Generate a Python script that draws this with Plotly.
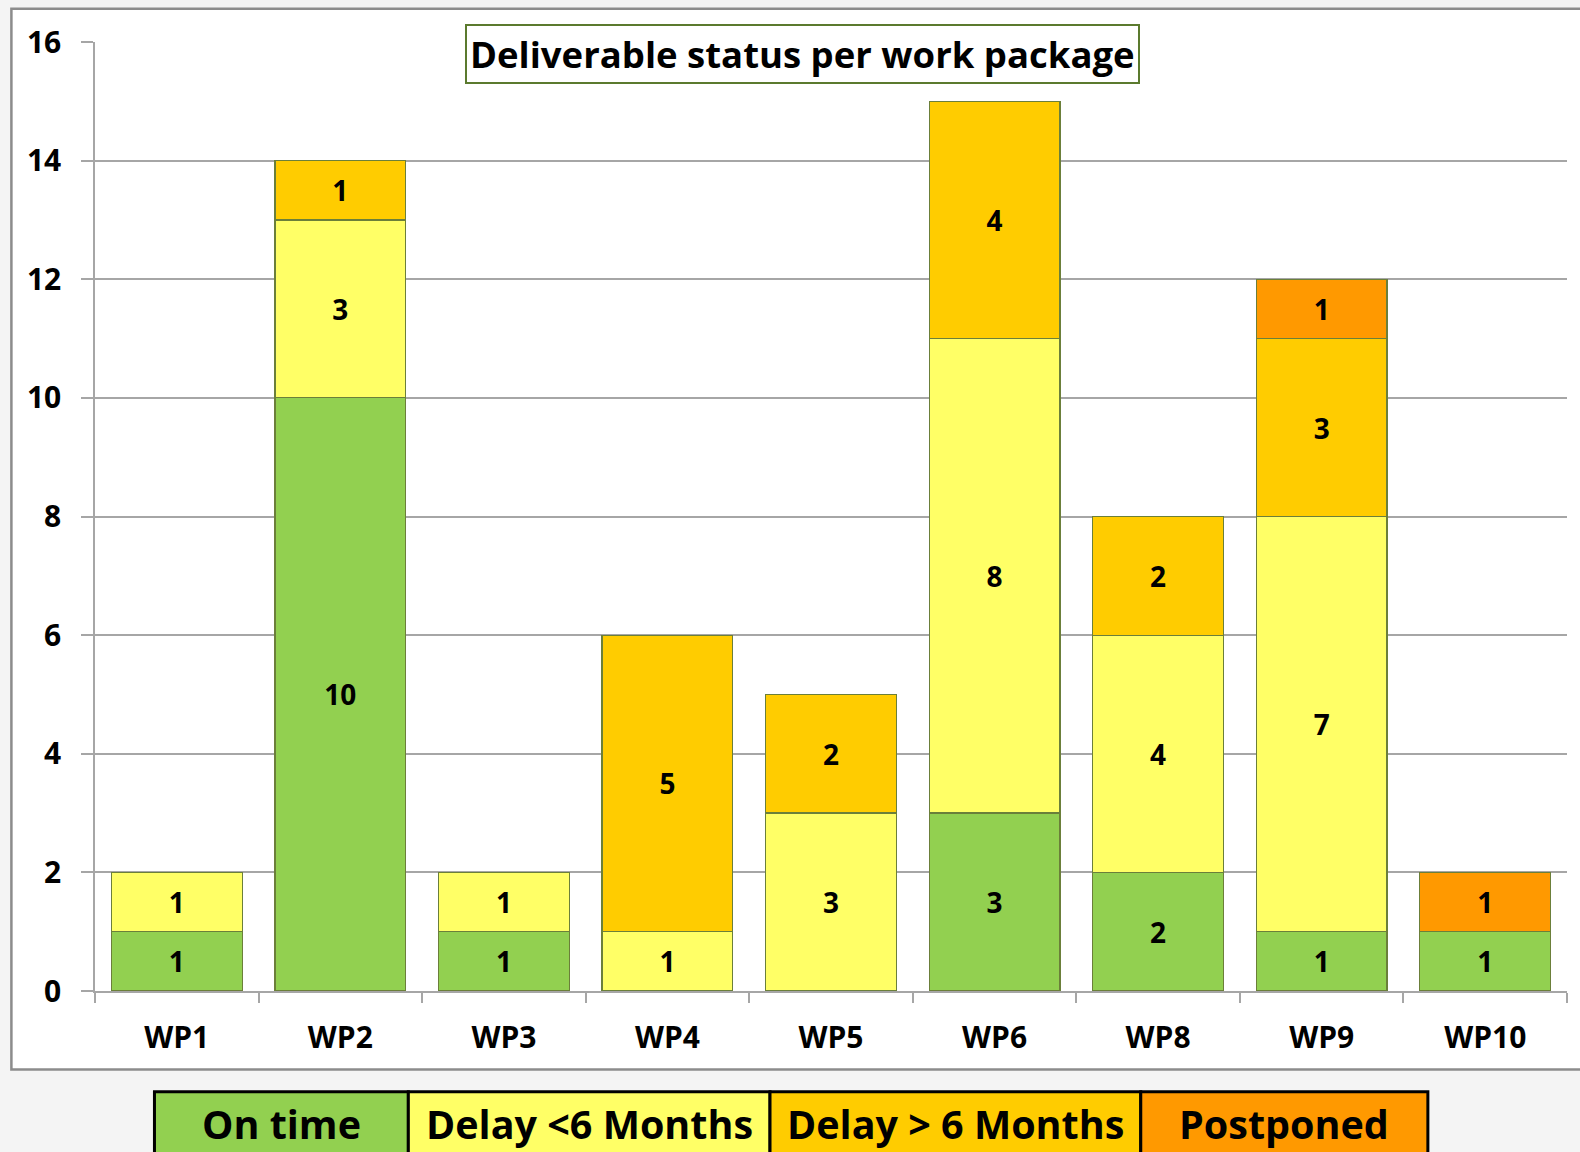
import plotly.graph_objects as go

categories = ["WP1", "WP2", "WP3", "WP4", "WP5", "WP6", "WP8", "WP9", "WP10"]
series_names = ["On time", "Delay <6 Months", "Delay > 6 Months", "Postponed"]
on_time = [1, 10, 1, 0, 0, 3, 2, 1, 1]
delay_lt6 = [1, 3, 1, 1, 3, 8, 4, 7, 0]
delay_gt6 = [0, 1, 0, 5, 2, 4, 2, 3, 0]
postponed = [0, 0, 0, 0, 0, 0, 0, 1, 1]
colors = ["#92D050", "#FFFF66", "#FFCC00", "#FF9900"]
y_ticks = [0, 2, 4, 6, 8, 10, 12, 14, 16]
title_text = "Deliverable status per work package"

W, H = 1580, 1152
S = 1580 / 1568  # measured coordinates were taken on a 1568-wide view
L, R, T, B = 94.7, 13, 42.3, 160.5
PW, PH = W - L - R, H - T - B


def px(x):
    return (x * S - L) / PW


def py(y):
    return (H - B - y * S) / PH


FONT = "Open Sans"
fig = go.Figure()
for name, vals, col in zip(series_names, [on_time, delay_lt6, delay_gt6, postponed], colors):
    fig.add_trace(go.Bar(
        x=categories,
        y=[v if v else None for v in vals],
        name=name,
        marker=dict(color=col, line=dict(color="#6B7F3A", width=1.2)),
        text=[str(v) if v else "" for v in vals],
        textposition="inside",
        insidetextanchor="middle",
        textangle=0,
        textfont=dict(family=FONT, size=28, color="black", weight="bold"),
        constraintext="none",
        showlegend=False,
    ))

shapes = []
# chart outer box
shapes.append(dict(type="rect", xref="paper", yref="paper",
                   x0=px(11), x1=px(1600), y0=py(1062), y1=py(9),
                   fillcolor="white", line=dict(color="#8C8C8C", width=2.5), layer="below"))

annotations = []
annotations.append(dict(
    text="<b>" + title_text + "</b>", xref="paper", yref="paper",
    x=px(796.5), y=py(53.5), xanchor="center", yanchor="middle", showarrow=False,
    font=dict(family=FONT, size=36.5, color="black"),
    bgcolor="white", bordercolor="#5B7A2E", borderwidth=2, borderpad=3,
))

# legend row
cell_x = [153, 405, 764, 1132, 1417]
for i, (name, col) in enumerate(zip(series_names, colors)):
    x0, x1 = cell_x[i], cell_x[i + 1]
    shapes.append(dict(type="rect", xref="paper", yref="paper",
                       x0=px(x0), x1=px(x1), y0=py(1170), y1=py(1084),
                       fillcolor=col, line=dict(color="black", width=3)))
    annotations.append(dict(
        text="<b>" + name + "</b>", xref="paper", yref="paper",
        x=px((x0 + x1) / 2), y=py(1115.5), xanchor="center", yanchor="middle",
        showarrow=False, font=dict(family=FONT, size=39.5, color="black"),
    ))

fig.update_layout(
    width=W, height=H,
    margin=dict(l=L, r=R, t=T, b=B, autoexpand=False),
    barmode="stack",
    bargap=0.2,
    paper_bgcolor="#F4F4F4",
    plot_bgcolor="rgba(0,0,0,0)",
    shapes=shapes,
    annotations=annotations,
    showlegend=False,
    xaxis=dict(
        showline=True, linecolor="#A6A6A6", linewidth=1.5,
        ticks="outside", tickson="boundaries", ticklen=10, tickcolor="#A6A6A6", tickwidth=1.5,
        showgrid=False, ticklabelstandoff=19,
        tickfont=dict(family=FONT, size=30, color="black", weight="bold"),
        range=[-0.5, len(categories) - 0.5],
    ),
    yaxis=dict(
        range=[0, 16], tickvals=y_ticks, ticktext=[str(v) for v in y_ticks],
        showline=True, linecolor="#A6A6A6", linewidth=1.5,
        ticks="outside", ticklen=12, tickcolor="#A6A6A6", tickwidth=1.5,
        showgrid=True, gridcolor="#A6A6A6", gridwidth=1.5,
        zeroline=False, ticklabelstandoff=14,
        tickfont=dict(family=FONT, size=30, color="black", weight="bold"),
    ),
)

fig.write_html(
    "out.html",
    config={"displayModeBar": False},
    post_script="document.body.style.margin='0';document.body.style.overflow='hidden';",
)
